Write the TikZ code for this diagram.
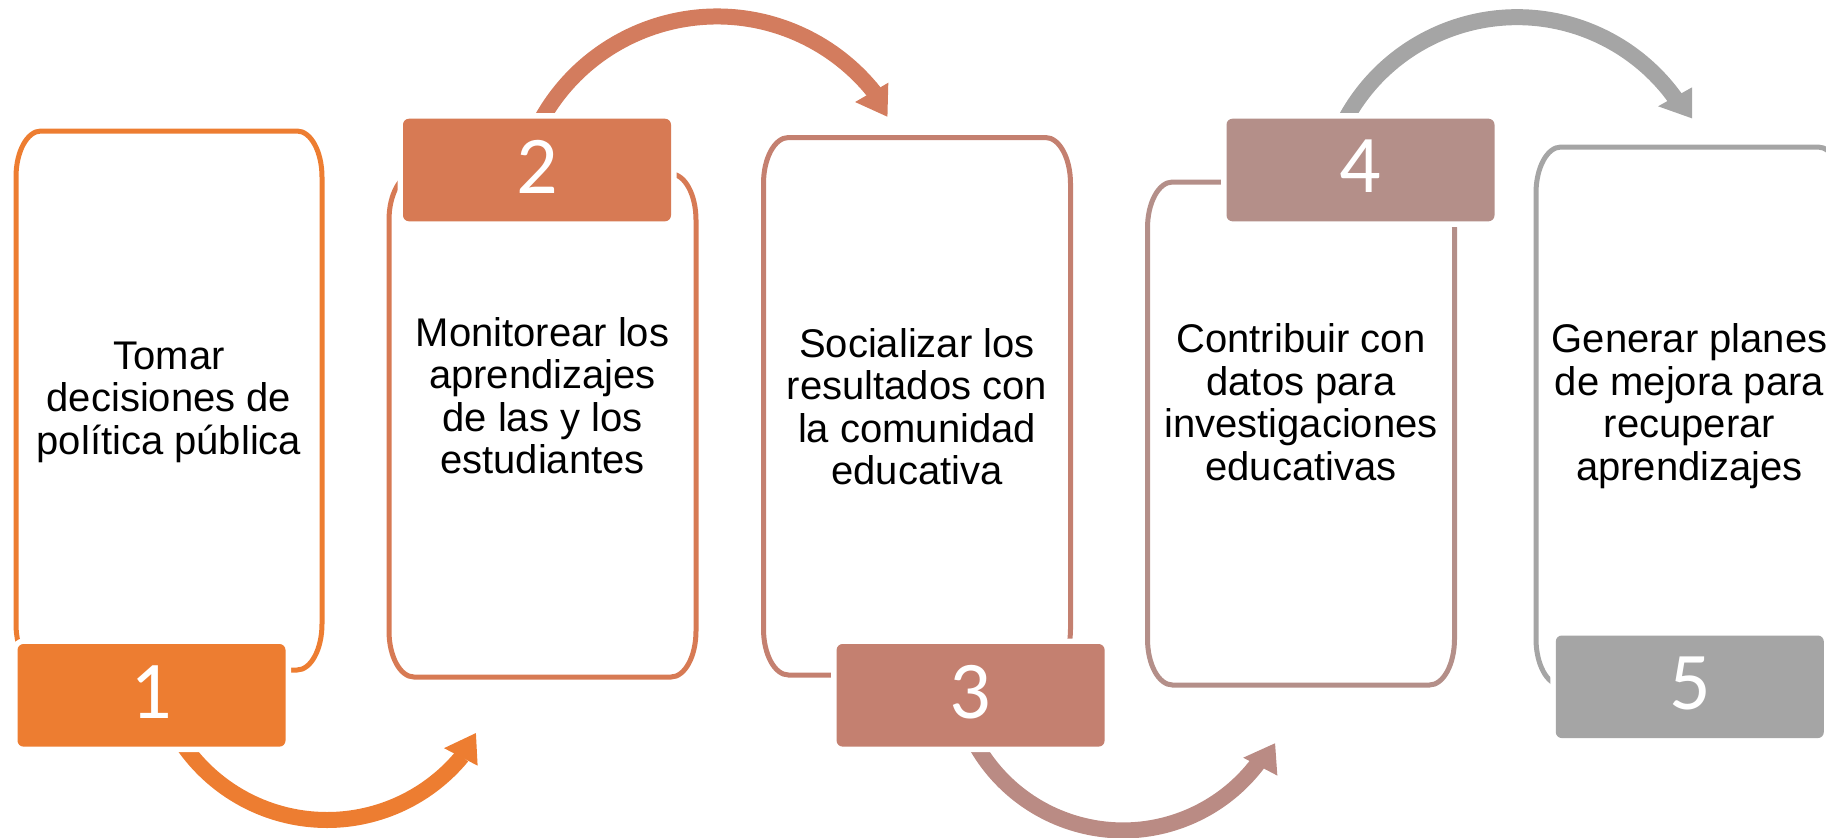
\documentclass[tikz,border=0pt]{standalone}
\usepackage{fontspec}
\setmainfont{Liberation Sans}
\newfontfamily\numfont{Carlito}
\definecolor{cA}{HTML}{ED7D31}
\definecolor{cB}{HTML}{D77A54}
\definecolor{cC}{HTML}{C48070}
\definecolor{cD}{HTML}{B48F89}
\definecolor{cE}{HTML}{A5A5A5}
\definecolor{aB}{HTML}{D37C5E}
\definecolor{aC}{HTML}{BA8B84}
\tikzset{
  outline/.style={line width=5pt},
  numbox/.style={rectangle, rounded corners=6pt, inner sep=0pt,
    minimum width=268pt, minimum height=102.6pt, text=white,
    font=\numfont\fontsize{82}{82}\selectfont, text depth=7pt,
    preaction={draw=white, line width=11pt}},
  boxtext/.style={anchor=north, align=center, inner sep=0pt,
    font=\fontsize{40}{42.5}\selectfont, text=black},
  arcshaft/.style={line width=16pt},
}
% elliptical rounded box outline: colour, x1, y1, x2, y2
\newcommand\ovalbox[5]{%
  \draw[outline, #1] (#2+25,#3) -- (#4-25,#3)
    arc[start angle=-90, end angle=0, x radius=25, y radius=46]
    -- (#4,#5-46)
    arc[start angle=0, end angle=90, x radius=25, y radius=46]
    -- (#2+25,#5)
    arc[start angle=90, end angle=180, x radius=25, y radius=46]
    -- (#2,#3+46)
    arc[start angle=180, end angle=270, x radius=25, y radius=46]
    -- cycle;}
\begin{document}
\begin{tikzpicture}[x=1pt,y=-1pt]
\useasboundingbox (0,0) rectangle (1826,838);
\clip (0,0) rectangle (1826,838);

% centres of the circular arrows
\coordinate (o1) at (327,645);
\coordinate (o2) at (717,217.5);
\coordinate (o3) at (1123,661.4);
\coordinate (o4) at (1517,212.2);

% box outlines
\ovalbox{cA}{16}{131}{322}{670}
\ovalbox{cB}{389}{174}{696}{677}
\ovalbox{cC}{763.5}{137.5}{1070.5}{675}
\ovalbox{cD}{1147.5}{182}{1454.5}{685}
\ovalbox{cE}{1536}{147}{1843}{685}

% arrows
\draw[arcshaft, cA] (o1) ++(150:175) arc[start angle=150, end angle=39.5, radius=175];
\fill[cA] ([shift={(41.4:156)}]o1) -- ([shift={(38.7:193)}]o1) -- ([shift={(30.6:173)}]o1) -- cycle;

\draw[arcshaft, aB] (o2) ++(-155:201) arc[start angle=-155, end angle=-38.5, radius=201];
\fill[aB] ([shift={(-39.9:180)}]o2) -- ([shift={(-38.2:218)}]o2) -- ([shift={(-30.6:198)}]o2) -- cycle;

\draw[arcshaft, aC] (o3) ++(155:169) arc[start angle=155, end angle=37, radius=169];
\fill[aC] ([shift={(38.7:154)}]o3) -- ([shift={(36.5:192)}]o3) -- ([shift={(28.3:172.7)}]o3) -- cycle;

\draw[arcshaft, cE] (o4) ++(-155:195) arc[start angle=-155, end angle=-35.7, radius=195];
\fill[cE] ([shift={(-36.9:176.4)}]o4) -- ([shift={(-35.5:215)}]o4) -- ([shift={(-28.2:198.6)}]o4) -- cycle;

% number labels
\node[numbox, fill=cA] (n1) at (151.5,695.3) {1};
\node[numbox, fill=cB] (n2) at (537,170) {2};
\node[numbox, fill=cC] (n3) at (970.6,695.3) {3};
\node[numbox, fill=cD] (n4) at (1360.5,170) {4};
\node[numbox, fill=cE] (n5) at (1689.8,686.8) {5};

% texts
\node[boxtext] (t1) at (169,331) {\rule{0pt}{38pt}Tomar\\decisiones de\\política pública};
\node[boxtext] (t2) at (542.5,308) {\rule{0pt}{38pt}Monitorear los\\aprendizajes\\de las y los\\estudiantes};
\node[boxtext] (t3) at (917,319) {\rule{0pt}{38pt}Socializar los\\resultados con\\la comunidad\\educativa};
\node[boxtext] (t4) at (1301,314.7) {\rule{0pt}{38pt}Contribuir con\\datos para\\investigaciones\\educativas};
\node[boxtext] (t5) at (1689.5,314.7) {\rule{0pt}{38pt}Generar planes\\de mejora para\\recuperar\\aprendizajes};
\end{tikzpicture}
\end{document}
